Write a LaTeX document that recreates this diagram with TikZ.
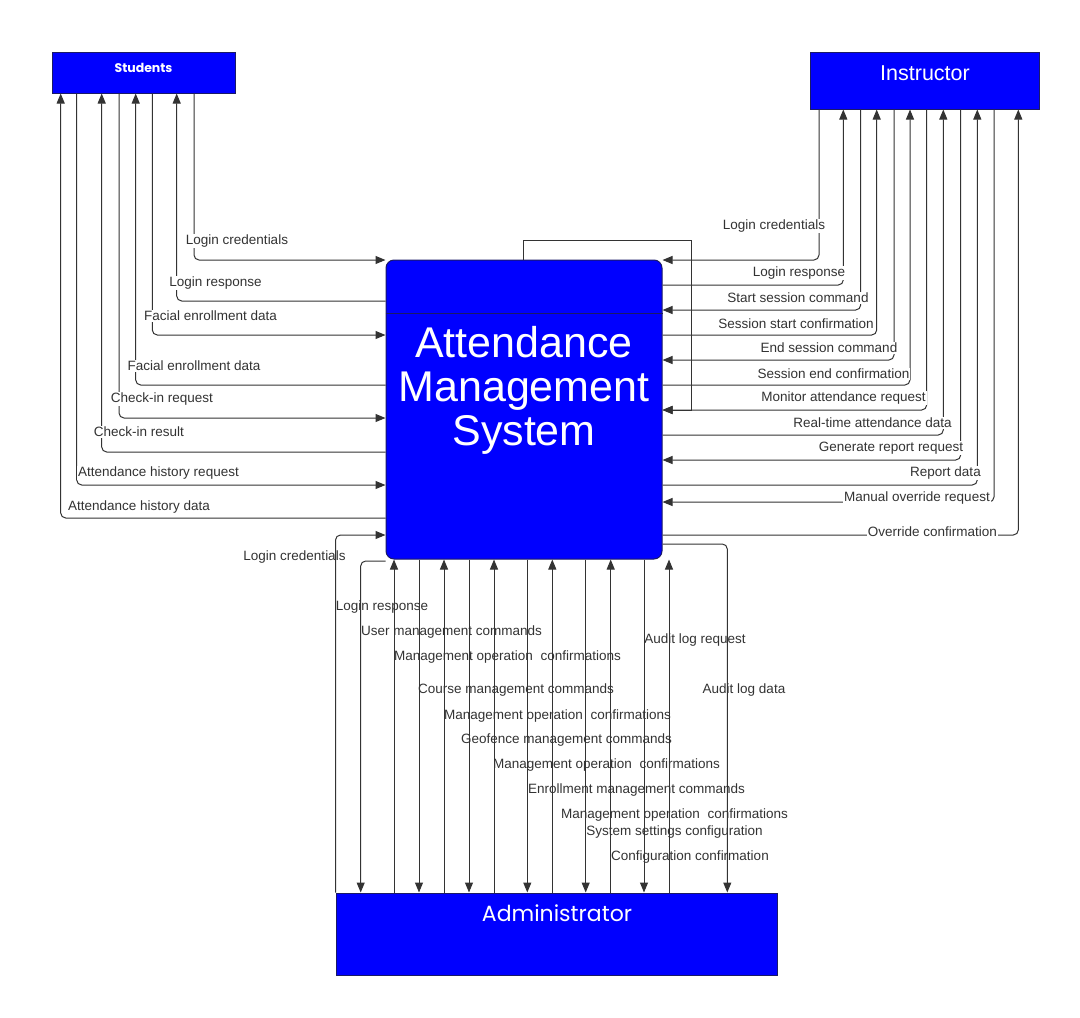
\documentclass[tikz,border=0pt]{standalone}
\usepackage{fontspec}
\setmainfont{Liberation Sans}
\newfontfamily\popfont{Poppins}
\usetikzlibrary{arrows.meta}

\definecolor{boxblue}{HTML}{0000FF}
\definecolor{boxedge}{HTML}{1A1A66}
\definecolor{wire}{HTML}{333333}

\tikzset{
  extbox/.style={draw=boxedge, fill=boxblue, line width=1pt, inner sep=0pt},
  boxtext/.style={text=white, inner sep=0pt},
  flow/.style={draw=wire, line width=1pt, rounded corners=5pt, -{Triangle[length=10pt,width=8pt]}},
  lbl/.style={font=\fontsize{13.5}{15}\selectfont, text=wire, inner sep=1pt},
  sidelbl/.style={lbl, fill=white},
}

\begin{document}
\begin{tikzpicture}[x=1pt,y=-1pt]
\useasboundingbox (0,0) rectangle (1080,1018);

%%% ENTITIES
\node[extbox, minimum width=183pt, minimum height=41pt] (stu) at (143.5,72.5) {};
\node[boxtext, font=\popfont\bfseries\fontsize{12.5}{14}\selectfont] (stu-t) at (143.5,68) {Students};
\node[extbox, minimum width=229pt, minimum height=57pt] (ins) at (924.5,80.5) {};
\node[boxtext, font=\fontsize{21.5}{24}\selectfont] (ins-t) at (925,73) {Instructor};
\node[extbox, minimum width=441pt, minimum height=82pt] (adm) at (556.5,934) {};
\node[boxtext, font=\popfont\fontsize{22}{24}\selectfont] (adm-t) at (557,913) {Administrator};

%%% SYSTEM
\node[extbox, rounded corners=8pt, minimum width=276pt, minimum height=299pt] (ams) at (524,409.5) {};
\draw[boxedge, line width=1pt] (ams.west |- 0,313) -- (ams.east |- 0,313);
\node[boxtext, align=center, font=\fontsize{43}{44}\selectfont] (ams-t) at (524,390)
  {Attendance\\Management\\System};

%%% STUDENTS FLOWS
\foreach \xx/\yy/\lx/\ly/\txt [count=\i] in {
  194/260/237/241/Login credentials,
  152.3/335/210.5/316/Facial enrollment data,
  119/418/162/399/Check-in request,
  76.7/485/158.5/473/Attendance history request}
{
  \draw[flow] (stu.south -| \xx,0) |- (ams.west |- 0,\yy);
  \node[sidelbl] (stu-in\i) at (\lx,\ly) {\txt};
}
\foreach \xx/\yy/\lx/\ly/\txt [count=\i] in {
  176.7/301/215.5/283/Login response,
  135.7/385/194/366/Facial enrollment data,
  101.7/452/139/432/Check-in result,
  60.7/518/139/507/Attendance history data}
{
  \draw[flow] (ams.west |- 0,\yy) -| (stu.south -| \xx,0);
  \node[sidelbl] (stu-out\i) at (\lx,\ly) {\txt};
}

%%% INSTRUCTOR FLOWS
\draw[draw=wire, line width=1pt, -{Triangle[length=10pt,width=8pt]}]
  (ams.north -| 523,0) |- (691.7,240) |- (ams.east |- 0,410);
\foreach \xx/\yy/\lx/\ly/\txt [count=\i] in {
  819/260/774/226/Login credentials,
  860.7/310/798/298/Start session command,
  894/360/829/348/End session command,
  926.7/410/843.5/398/Monitor attendance request,
  960.7/460/891/448/Generate report request,
  994/502/917/498/Manual override request}
{
  \draw[flow] (ins.south -| \xx,0) |- (ams.east |- 0,\yy);
  \node[sidelbl] (ins-in\i) at (\lx,\ly) {\txt};
}
\foreach \xx/\yy/\lx/\ly/\txt [count=\i] in {
  843.3/285/799/273/Login response,
  876.7/335/796/324/Session start confirmation,
  910/385/833.5/374/Session end confirmation,
  943.3/435/872.5/423/Real-time attendance data,
  977.3/485/945.5/473/Report data,
  1018.3/535/932.5/532/Override confirmation}
{
  \draw[flow] (ams.east |- 0,\yy) -| (ins.south -| \xx,0);
  \node[sidelbl] (ins-out\i) at (\lx,\ly) {\txt};
}

%%% ADMINISTRATOR FLOWS
\draw[flow] (adm.north west) |- (ams.west |- 0,535);
\node[lbl] (adm-in0) at (294.5,557) {Login credentials};
\draw[flow] (ams.west |- 0,561) -| (adm.north -| 360.7,0);
\node[lbl] (adm-out0) at (382,607) {Login response};
\draw[flow] (ams.east |- 0,544) -| (adm.north -| 727.3,0);
\node[lbl] (adm-out6) at (744,690) {Audit log data};
\foreach \xx/\lx/\ly/\txt [count=\i] in {
  394/451.5/632/User management commands,
  444/516/690/Course management commands,
  494/566.5/740/Geofence management commands,
  552.3/636.5/790/Enrollment management commands,
  610.7/674.5/832/System settings configuration,
  669/695/640/Audit log request}
{
  \draw[flow] (adm.north -| \xx,0) -- (ams.south -| \xx,0);
  \node[lbl] (adm-in\i) at (\lx,\ly) {\txt};
}
\foreach \xx/\lx/\ly/\txt [count=\i] in {
  419/507.5/657/Management operation~ confirmations,
  469/557.5/716/Management operation~ confirmations,
  527.3/606.5/765/Management operation~ confirmations,
  585.7/674.5/815/Management operation~ confirmations,
  644/690/857/Configuration confirmation}
{
  \draw[flow] (ams.south -| \xx,0) -- (adm.north -| \xx,0);
  \node[lbl] (adm-out\i) at (\lx,\ly) {\txt};
}
\end{tikzpicture}
\end{document}
